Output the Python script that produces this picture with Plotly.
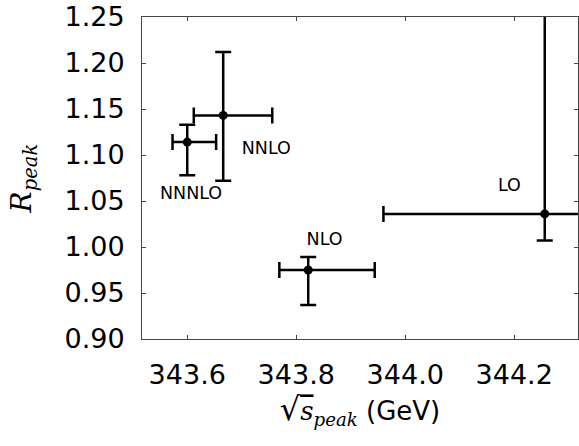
import plotly.graph_objects as go

labels = ["NNNLO", "NNLO", "NLO", "LO"]
sqrt_s_peak = [343.600, 343.666, 343.822, 344.256]
sqrt_s_low = [343.573, 343.612, 343.769, 343.960]
sqrt_s_high = [343.653, 343.756, 343.944, 344.550]
r_peak = [1.114, 1.143, 0.975, 1.036]
r_low = [1.078, 1.072, 0.937, 1.007]
r_high = [1.133, 1.212, 0.989, 1.300]

label_x = [343.607, 343.745, 343.852, 344.191]
label_y = [1.0565, 1.1063, 1.0067, 1.066]

x_tickvals = [343.6, 343.8, 344.0, 344.2]
y_tickvals = [0.90, 0.95, 1.00, 1.05, 1.10, 1.15, 1.20, 1.25]

FONT = "DejaVu Sans"

fig = go.Figure()
fig.add_trace(go.Scatter(
    x=sqrt_s_peak, y=r_peak, mode="markers",
    marker=dict(color="black", size=9),
    error_x=dict(type="data", symmetric=False,
                 array=[h - c for h, c in zip(sqrt_s_high, sqrt_s_peak)],
                 arrayminus=[c - l for l, c in zip(sqrt_s_low, sqrt_s_peak)],
                 color="black", thickness=2.5, width=8),
    error_y=dict(type="data", symmetric=False,
                 array=[h - c for h, c in zip(r_high, r_peak)],
                 arrayminus=[c - l for l, c in zip(r_low, r_peak)],
                 color="black", thickness=2.5, width=8),
    showlegend=False, cliponaxis=True,
))
fig.add_trace(go.Scatter(
    x=label_x, y=label_y, mode="text", text=labels,
    textfont=dict(family=FONT, size=17.5, color="black"),
    showlegend=False, hoverinfo="skip",
))

axis_common = dict(
    showgrid=False, zeroline=False, showline=True, linecolor="#444", linewidth=1,
    mirror="ticks", ticks="inside", ticklen=4, tickcolor="#444",
    tickfont=dict(family=FONT, size=27, color="black"), automargin=False,
    ticklabeloverflow="allow",
)
fig.update_xaxes(range=[343.517, 344.317], tickvals=x_tickvals,
                 ticktext=[f"{v:.1f}" for v in x_tickvals],
                 ticklabelstandoff=12,
                 title=dict(text='<span style="font-size:32px">√</span><span style="text-decoration:overline;font-family:\'DejaVu Serif\'"><i>s</i></span><sub><i style="font-family:\'DejaVu Serif\'">peak</i></sub> (GeV)',
                            font=dict(family=FONT, size=26, color="black"), standoff=10),
                 **axis_common)
fig.update_yaxes(range=[0.90, 1.25], tickvals=y_tickvals,
                 ticktext=[f"{v:.2f}" for v in y_tickvals],
                 ticklabelstandoff=11,
                 title=dict(text="<i>R</i><sub><i>peak</i></sub>",
                            font=dict(family="DejaVu Serif", size=28, color="black"), standoff=24),
                 **axis_common)
fig.update_layout(
    width=579, height=446,
    margin=dict(l=142, r=1, t=17, b=107),
    paper_bgcolor="white", plot_bgcolor="white",
    font=dict(family=FONT),
)
# remove the default page margin so the figure fills the window exactly
fig.write_html("out.html", config={"displayModeBar": False},
               post_script="document.body.style.margin='0';")
